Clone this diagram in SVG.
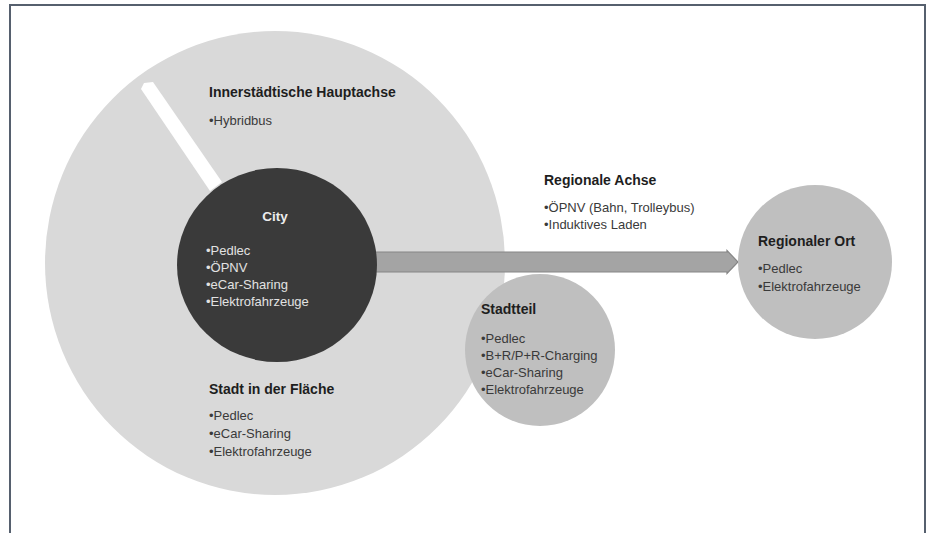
<svg xmlns="http://www.w3.org/2000/svg" width="928" height="533" viewBox="0 0 928 533">
<style>
text{font-family:"Liberation Sans",Arial,sans-serif;}
.h{font-size:14px;font-weight:bold;fill:#1e1e1e;}
.b{font-size:13px;fill:#3a3a3a;}
.hw{font-size:13.5px;font-weight:bold;fill:#ececec;}
.bw{font-size:13px;fill:#e2e2e2;}
</style>
<rect x="0" y="0" width="928" height="533" fill="#ffffff"/>
<path d="M10,533 V5 H925 V533" fill="none" stroke="#56606e" stroke-width="2"/>

<g id="stadt-in-der-flaeche">
  <ellipse cx="275" cy="263" rx="230" ry="232" fill="#d9d9d9"/>
  <text class="h" x="209" y="394">Stadt in der Fläche</text>
  <text class="b" x="209" y="420">•Pedlec</text>
  <text class="b" x="209" y="438">•eCar-Sharing</text>
  <text class="b" x="209" y="456">•Elektrofahrzeuge</text>
</g>

<g id="innerstaedtische-hauptachse">
  <polygon points="141,89 144,83 153,82 222,182 210,191" fill="#ffffff"/>
  <text class="h" x="209" y="97">Innerstädtische Hauptachse</text>
  <text class="b" x="209" y="125">•Hybridbus</text>
</g>

<g id="connectors">
  <polygon points="360,252 727,252 727,250.5 738,262 727,273.5 727,272 360,272" fill="#a4a4a4" stroke="#868686" stroke-width="1.2"/>
  <text class="h" x="544" y="185">Regionale Achse</text>
  <text class="b" x="544" y="212">•ÖPNV (Bahn, Trolleybus)</text>
  <text class="b" x="544" y="229">•Induktives Laden</text>
</g>

<g id="city">
  <ellipse cx="277" cy="265" rx="100" ry="97" fill="#3a3a3a"/>
  <text class="hw" x="275" y="221" text-anchor="middle">City</text>
  <text class="bw" x="206" y="255">•Pedlec</text>
  <text class="bw" x="206" y="272">•ÖPNV</text>
  <text class="bw" x="206" y="289">•eCar-Sharing</text>
  <text class="bw" x="206" y="306">•Elektrofahrzeuge</text>
</g>

<g id="stadtteil">
  <ellipse cx="540" cy="350" rx="75" ry="76" fill="#bfbfbf"/>
  <text class="h" x="481" y="314">Stadtteil</text>
  <text class="b" x="481" y="343">•Pedlec</text>
  <text class="b" x="481" y="360">•B+R/P+R-Charging</text>
  <text class="b" x="481" y="377">•eCar-Sharing</text>
  <text class="b" x="481" y="394">•Elektrofahrzeuge</text>
</g>

<g id="regionaler-ort">
  <ellipse cx="815" cy="262" rx="77" ry="77" fill="#bfbfbf"/>
  <text class="h" x="758" y="246">Regionaler Ort</text>
  <text class="b" x="758" y="273">•Pedlec</text>
  <text class="b" x="758" y="291">•Elektrofahrzeuge</text>
</g>
</svg>
